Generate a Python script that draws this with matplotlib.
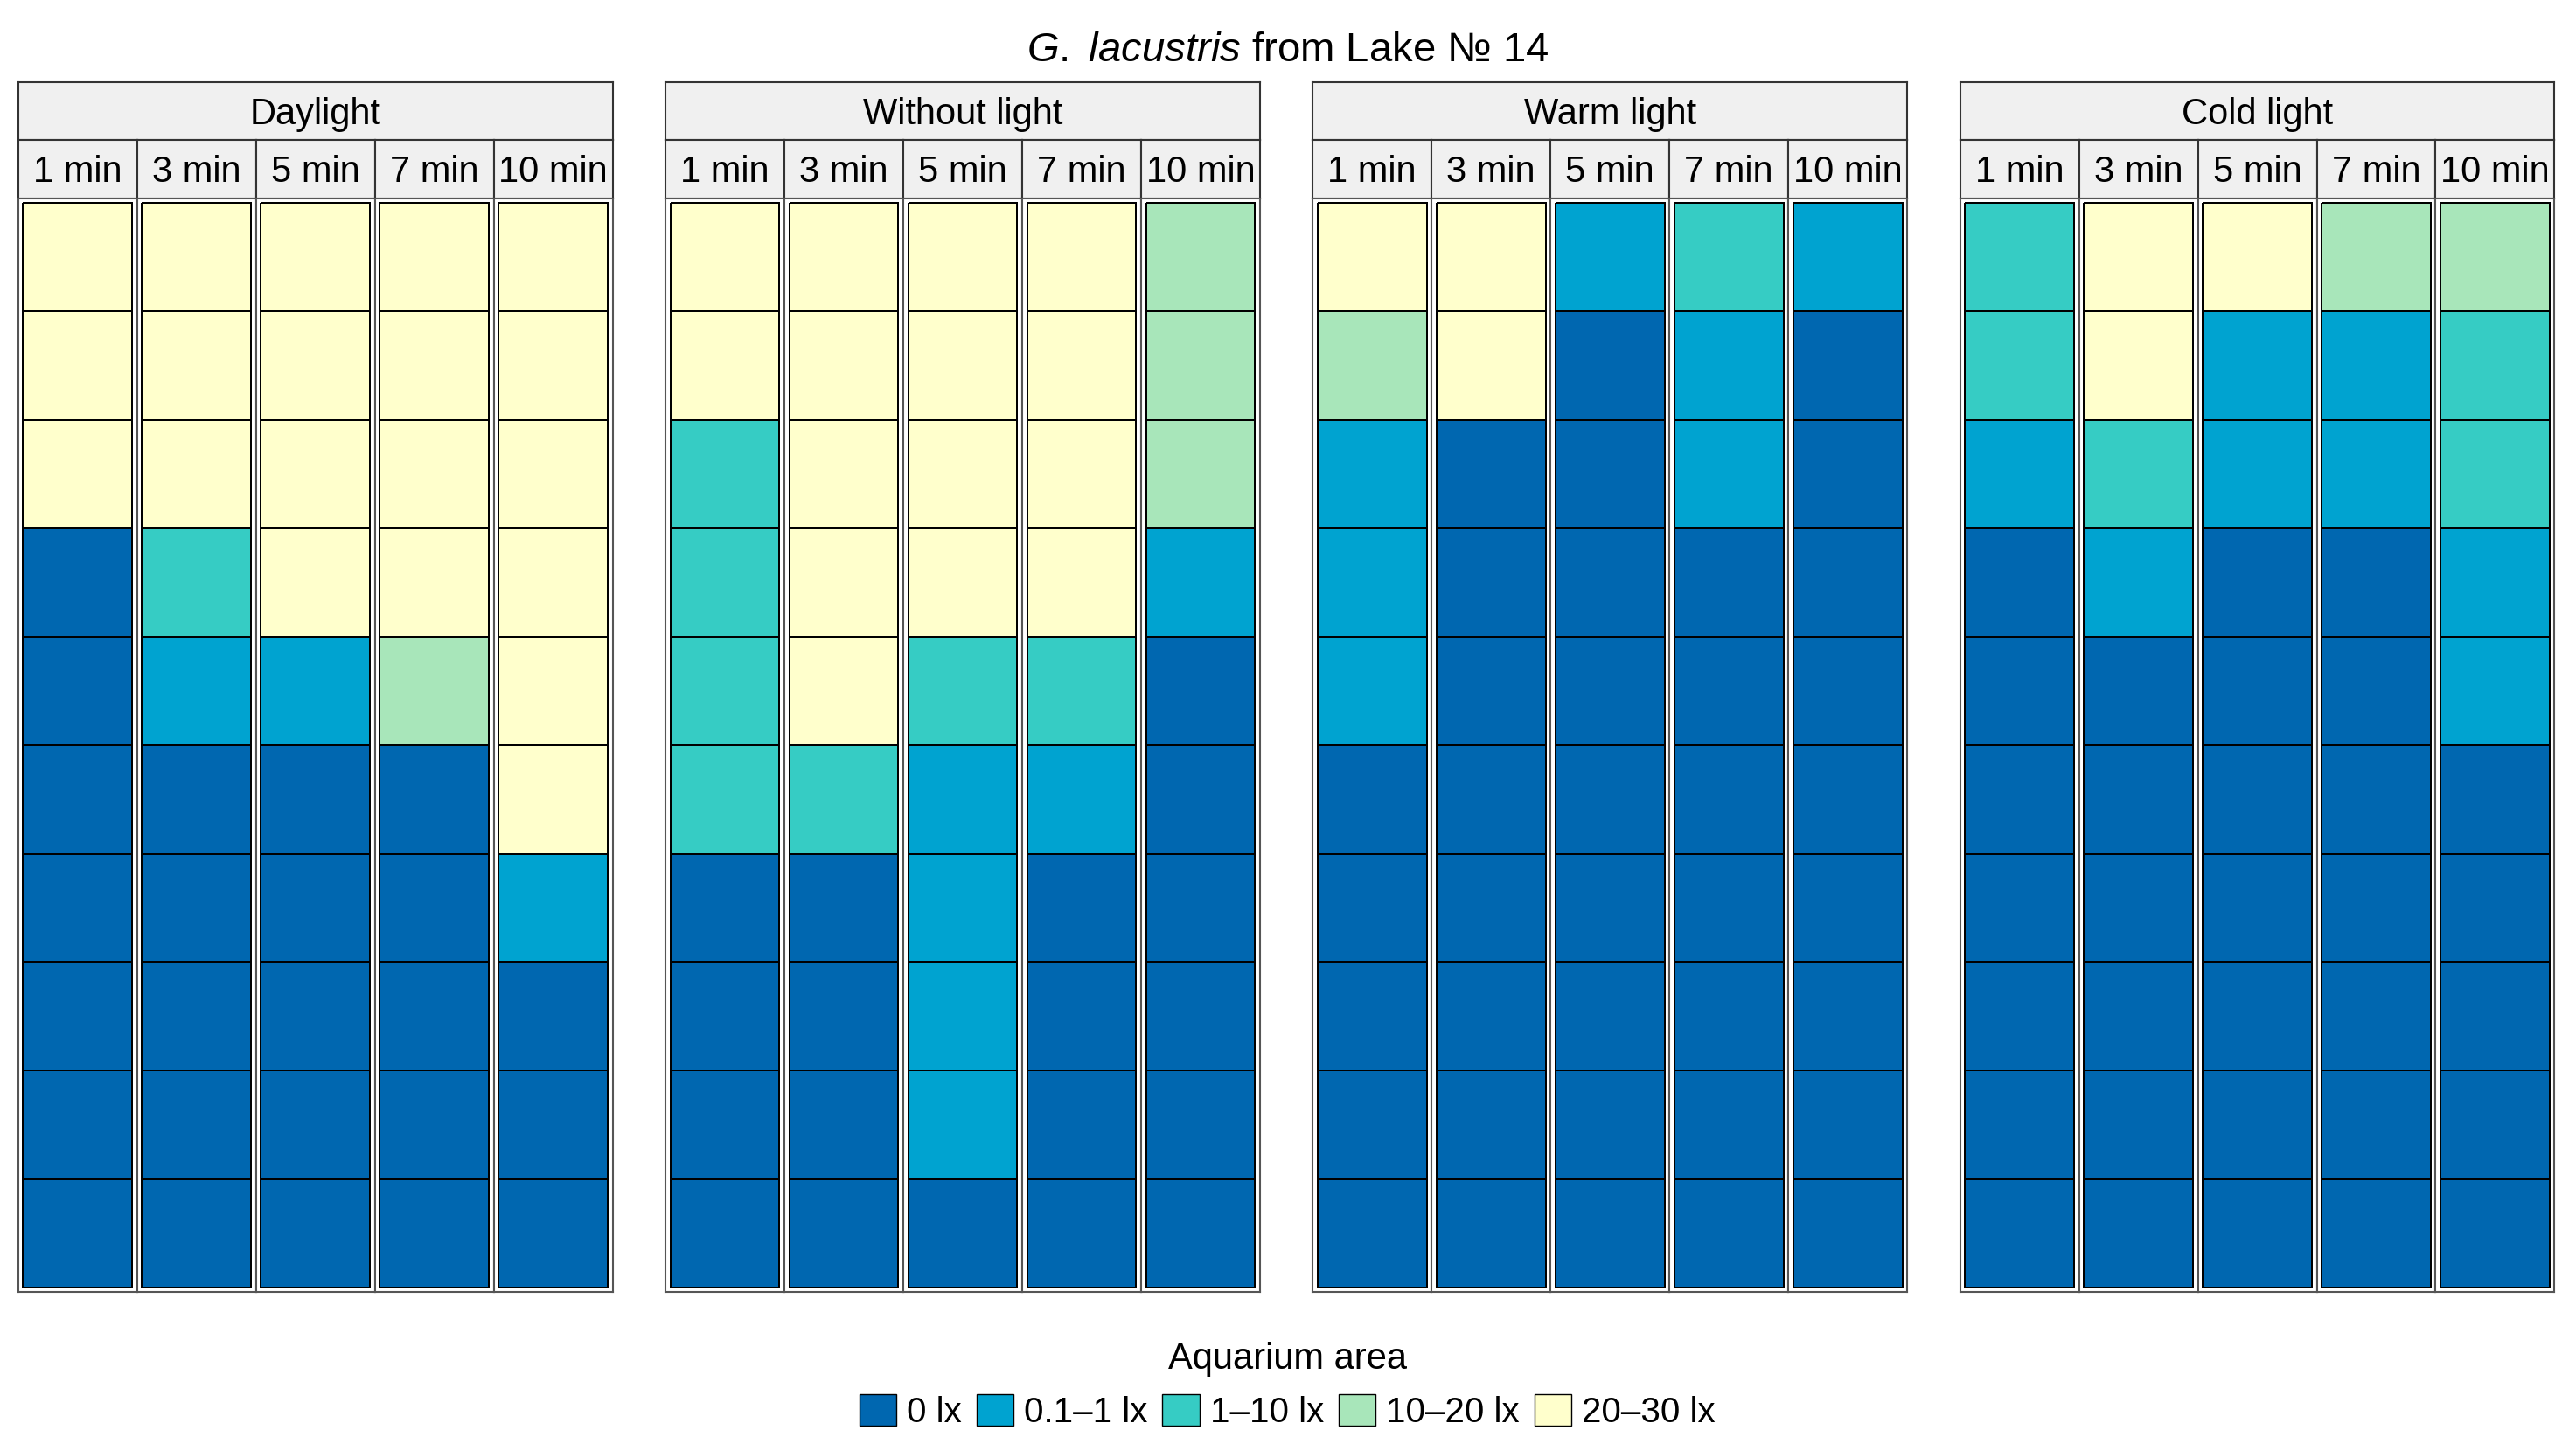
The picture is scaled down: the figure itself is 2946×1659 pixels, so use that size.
import numpy as np
import matplotlib.pyplot as plt
from matplotlib.colors import ListedColormap
from matplotlib.patches import Patch

plt.rcParams['font.family'] = ['Liberation Sans', 'DejaVu Sans']
plt.rcParams['mathtext.fontset'] = 'custom'
plt.rcParams['mathtext.rm'] = 'Liberation Sans'
plt.rcParams['mathtext.it'] = 'Liberation Sans:italic'

levels = ['0 lx', '0.1–1 lx', '1–10 lx', '10–20 lx', '20–30 lx']
colors = ['#0067B0', '#00A3D0', '#36CCC4', '#A8E6BA', '#FFFFCC']
conditions = ['Daylight', 'Without light', 'Warm light', 'Cold light']
times = ['1 min', '3 min', '5 min', '7 min', '10 min']

# one list per time column, rows from top to bottom, value = index in levels
daylight = [[4, 4, 4, 0, 0, 0, 0, 0, 0, 0],
            [4, 4, 4, 2, 1, 0, 0, 0, 0, 0],
            [4, 4, 4, 4, 1, 0, 0, 0, 0, 0],
            [4, 4, 4, 4, 3, 0, 0, 0, 0, 0],
            [4, 4, 4, 4, 4, 4, 1, 0, 0, 0]]
without_light = [[4, 4, 2, 2, 2, 2, 0, 0, 0, 0],
                 [4, 4, 4, 4, 4, 2, 0, 0, 0, 0],
                 [4, 4, 4, 4, 2, 1, 1, 1, 1, 0],
                 [4, 4, 4, 4, 2, 1, 0, 0, 0, 0],
                 [3, 3, 3, 1, 0, 0, 0, 0, 0, 0]]
warm_light = [[4, 3, 1, 1, 1, 0, 0, 0, 0, 0],
              [4, 4, 0, 0, 0, 0, 0, 0, 0, 0],
              [1, 0, 0, 0, 0, 0, 0, 0, 0, 0],
              [2, 1, 1, 0, 0, 0, 0, 0, 0, 0],
              [1, 0, 0, 0, 0, 0, 0, 0, 0, 0]]
cold_light = [[2, 2, 1, 0, 0, 0, 0, 0, 0, 0],
              [4, 4, 2, 1, 0, 0, 0, 0, 0, 0],
              [4, 1, 1, 0, 0, 0, 0, 0, 0, 0],
              [3, 1, 1, 0, 0, 0, 0, 0, 0, 0],
              [3, 2, 2, 1, 1, 0, 0, 0, 0, 0]]
panels = [daylight, without_light, warm_light, cold_light]

cmap = ListedColormap(colors)
W, H = 1560.0, 878.6


def box(x0, y0, x1, y1):
    return [x0 / W, 1 - y1 / H, (x1 - x0) / W, (y1 - y0) / H]


def strip(ax, label):
    ax.set_facecolor('#F0F0F0')
    ax.set_xticks([])
    ax.set_yticks([])
    for s in ax.spines.values():
        s.set_color('#333333')
        s.set_linewidth(1.5)
    ax.text(0.5, 0.45, label, ha='center', va='center', fontsize=30,
            transform=ax.transAxes)


fig = plt.figure(figsize=(29.46, 16.59), dpi=100)

for i, (name, data) in enumerate(zip(conditions, panels)):
    left = 11 + i * 392
    strip(fig.add_axes(box(left, 50, left + 360, 85)), name)
    for j, t in enumerate(times):
        x0 = left + j * 72
        strip(fig.add_axes(box(x0, 85, x0 + 72, 120)), t)
        ax = fig.add_axes(box(x0, 120, x0 + 72, 782))
        grid = np.array(data[j]).reshape(-1, 1)
        ax.pcolormesh(grid, cmap=cmap, vmin=-0.5, vmax=4.5,
                      edgecolors='black', linewidth=1.4)
        ax.set_xlim(-0.045, 1.045)
        ax.set_ylim(10.04, -0.04)
        ax.set_xticks([])
        ax.set_yticks([])
        for s in ax.spines.values():
            s.set_color('#555555')
            s.set_linewidth(1.5)

fig.text(0.5, 1 - 37 / H, r'$\mathit{G.}$ $\mathit{lacustris}$ from Lake № 14',
         ha='center', va='baseline', fontsize=34)

handles = [Patch(facecolor=c, edgecolor='black', label=l)
           for c, l in zip(colors, levels)]
fig.legend(handles=handles, loc='center', bbox_to_anchor=(0.4997, 1 - 839 / H),
           ncol=5, frameon=False, title='Aquarium area', fontsize=29,
           title_fontsize=30, handlelength=1.05, handleheight=1.0,
           handletextpad=0.3, columnspacing=0.42, borderpad=0)

fig.savefig('out.png', dpi=100)
